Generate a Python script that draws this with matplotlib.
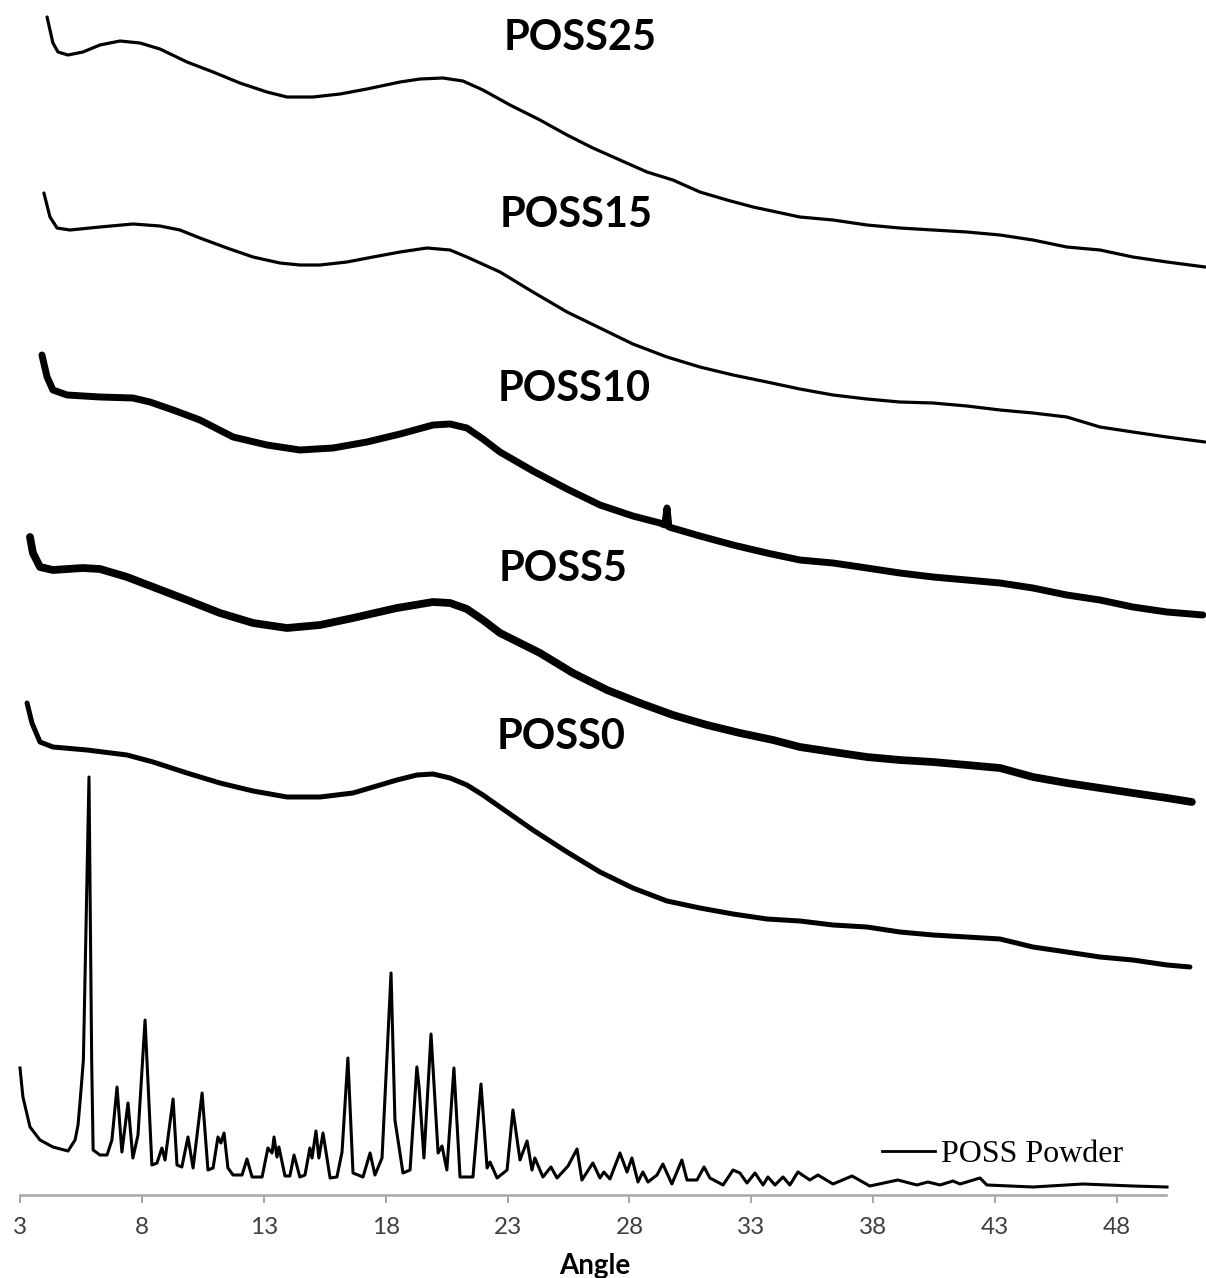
### XRD patterns of POSS powder and POSS/polymer films ###

import matplotlib
matplotlib.use( "Agg" )
import matplotlib.pyplot as plt

# --- end of imports --- #

# --- 2theta / intensity (a.u., offset per trace) --- #
poss25_angle = [ 4.11, 4.35, 4.56, 4.97, 5.58, 6.28, 7.10, 7.92, 8.74, 9.85, 10.92, 12.02, 13.13, 13.95, 15.02, 16.13, 17.23, 18.59, 19.41, 20.35, 21.17, 21.99, 23.10, 24.33, 25.44, 26.50, 27.61, 28.72, 29.78, 30.89, 32.00, 33.07, 34.99, 36.35, 37.74, 39.09, 40.45, 41.84, 43.20, 44.55, 45.94, 47.30, 48.65, 50.05, 51.61 ]
poss25_int = [ 1178, 1152, 1143, 1140, 1143, 1150, 1154, 1152, 1146, 1133, 1123, 1112, 1103, 1098, 1098, 1101, 1106, 1113, 1116, 1117, 1114, 1105, 1090, 1075, 1060, 1047, 1035, 1023, 1015, 1003, 995, 988, 978, 975, 970, 967, 965, 963, 960, 955, 948, 945, 938, 933, 928 ]

poss15_angle = [ 3.98, 4.23, 4.52, 5.05, 6.28, 7.63, 8.74, 9.56, 10.38, 11.49, 12.56, 13.66, 14.48, 15.31, 16.41, 17.48, 18.59, 19.69, 20.64, 21.33, 22.69, 24.04, 25.44, 26.79, 28.14, 29.54, 30.89, 32.25, 33.64, 34.99, 36.35, 37.74, 39.09, 40.45, 41.84, 43.20, 44.55, 45.94, 47.30, 48.65, 50.05, 51.61 ]
poss15_int = [ 1002, 978, 967, 965, 968, 971, 969, 965, 957, 947, 938, 932, 930, 930, 933, 938, 943, 947, 945, 938, 923, 903, 883, 867, 851, 838, 828, 820, 813, 806, 800, 796, 793, 792, 789, 785, 782, 778, 768, 763, 758, 753 ]

poss10_angle = [ 3.90, 4.11, 4.35, 4.93, 6.28, 7.63, 8.33, 9.28, 10.38, 11.74, 13.13, 14.48, 15.84, 17.23, 18.59, 19.94, 20.64, 21.33, 21.99, 22.69, 24.04, 25.44, 26.79, 28.14, 29.25, 29.45, 29.54, 29.62, 30.89, 32.25, 33.64, 34.99, 36.35, 37.74, 39.09, 40.45, 41.84, 43.20, 44.55, 45.94, 47.30, 48.65, 50.05, 51.52 ]
poss10_int = [ 840, 818, 805, 800, 798, 797, 793, 785, 775, 758, 750, 745, 747, 753, 761, 770, 771, 767, 756, 743, 724, 706, 690, 679, 672, 670, 687, 668, 659, 650, 642, 635, 632, 627, 622, 618, 615, 612, 607, 600, 595, 588, 583, 580 ]

poss5_angle = [ 3.41, 3.53, 3.82, 4.35, 5.58, 6.28, 7.39, 8.46, 9.85, 11.20, 12.56, 13.95, 15.31, 16.66, 18.46, 19.94, 20.64, 21.33, 21.99, 22.69, 24.33, 25.68, 27.08, 28.43, 29.78, 31.18, 32.53, 33.89, 34.99, 36.35, 37.74, 39.09, 40.45, 41.84, 43.20, 44.55, 45.94, 47.30, 48.65, 50.05, 51.07 ]
poss5_int = [ 658, 642, 628, 625, 627, 626, 618, 608, 595, 582, 572, 567, 570, 577, 587, 593, 592, 586, 575, 562, 542, 522, 505, 492, 480, 470, 462, 455, 448, 443, 438, 435, 433, 430, 427, 418, 412, 407, 402, 397, 393 ]

poss0_angle = [ 3.29, 3.49, 3.82, 4.35, 5.75, 7.39, 8.46, 9.85, 11.20, 12.56, 13.95, 15.31, 16.66, 18.46, 19.28, 19.94, 20.64, 21.33, 21.99, 22.69, 24.04, 25.44, 26.79, 28.14, 29.54, 30.89, 32.25, 33.64, 34.99, 36.35, 37.74, 39.09, 40.45, 41.84, 43.20, 44.55, 45.94, 47.30, 48.65, 50.05, 50.99 ]
poss0_int = [ 492, 472, 453, 448, 445, 440, 433, 422, 412, 404, 398, 398, 402, 415, 420, 421, 417, 410, 400, 388, 365, 343, 323, 307, 294, 287, 281, 276, 274, 270, 268, 263, 260, 258, 256, 248, 243, 238, 235, 230, 228 ]

powder_angle = [ 3.00, 3.12, 3.41, 3.82, 4.35, 4.97, 5.26, 5.38, 5.46, 5.60, 5.83, 5.94, 6.00, 6.28, 6.57, 6.77, 6.98, 7.18, 7.43, 7.63, 7.84, 8.13, 8.41, 8.62, 8.82, 8.95, 9.28, 9.44, 9.64, 9.89, 10.10, 10.47, 10.71, 10.92, 11.12, 11.24, 11.37, 11.53, 11.74, 12.11, 12.31, 12.52, 12.93, 13.17, 13.34, 13.42, 13.54, 13.62, 13.87, 14.07, 14.24, 14.48, 14.69, 14.89, 14.98, 15.14, 15.26, 15.43, 15.72, 16.00, 16.21, 16.45, 16.66, 17.07, 17.36, 17.56, 17.85, 18.22, 18.38, 18.71, 19.00, 19.28, 19.37, 19.57, 19.86, 20.15, 20.31, 20.51, 20.80, 21.05, 21.58, 21.91, 22.16, 22.28, 22.57, 22.98, 23.22, 23.51, 23.80, 24.00, 24.12, 24.45, 24.78, 25.03, 25.48, 25.85, 26.05, 26.50, 26.79, 26.95, 27.20, 27.61, 27.90, 28.10, 28.35, 28.55, 28.76, 29.13, 29.37, 29.74, 30.15, 30.36, 30.77, 31.06, 31.30, 31.84, 32.25, 32.53, 32.82, 33.15, 33.48, 33.68, 33.97, 34.30, 34.58, 34.91, 35.40, 35.73, 36.35, 37.13, 37.86, 39.01, 39.79, 40.24, 40.74, 41.27, 41.56, 42.38, 42.66, 44.55, 46.60, 48.65, 50.05 ]
powder_int = [ 127, 98, 68, 55, 48, 44, 55, 70, 92, 135, 418, 135, 45, 40, 40, 55, 108, 43, 92, 37, 60, 175, 30, 32, 47, 35, 96, 30, 28, 58, 27, 102, 25, 27, 58, 52, 62, 27, 20, 20, 36, 18, 18, 47, 42, 58, 38, 48, 19, 19, 40, 18, 20, 47, 37, 64, 37, 62, 17, 18, 43, 137, 22, 18, 42, 20, 37, 222, 75, 22, 25, 128, 108, 37, 161, 42, 49, 25, 127, 18, 18, 111, 27, 33, 17, 25, 85, 35, 54, 25, 37, 18, 28, 17, 29, 46, 15, 32, 17, 23, 16, 42, 23, 37, 13, 23, 13, 20, 31, 11, 35, 15, 15, 28, 17, 10, 25, 22, 12, 22, 10, 18, 10, 18, 10, 23, 15, 20, 11, 19, 9, 15, 10, 13, 10, 14, 11, 17, 10, 8, 11, 9, 8 ]

labels = [ "POSS25", "POSS15", "POSS10", "POSS5", "POSS0" ]
tick_values = [ 3, 8, 13, 18, 23, 28, 33, 38, 43, 48 ]


def generate_plot( out_file ):
	"""! @brief generate stacked XRD figure """
	
	fig = plt.figure( figsize=( 12.06, 12.78 ), dpi=100 )
	ax = fig.add_axes( [ 20/1206.0, 83/1278.0, 1186/1206.0, 1195/1278.0 ] )
	
	# --- amorphous film traces, heavier lines for the noisier scans --- #
	traces = [ ( poss25_angle, poss25_int, 2.3 ), ( poss15_angle, poss15_int, 2.3 ), ( poss10_angle, poss10_int, 5.0 ), ( poss5_angle, poss5_int, 5.6 ), ( poss0_angle, poss0_int, 3.6 ) ]
	for x, y, lw in traces:
		ax.plot( x, y, color="black", linewidth=lw, solid_joinstyle="round", solid_capstyle="round", clip_on=False )
	
	ax.plot( powder_angle, powder_int, color="black", linewidth=2.2, solid_joinstyle="round", label="POSS Powder", clip_on=False )
	
	# --- sample names above each trace --- #
	label_pos = [ ( 22.85, 1145 ), ( 22.69, 968 ), ( 22.61, 794 ), ( 22.65, 614 ), ( 22.57, 446 ) ]
	for name, ( lx, ly ) in zip( labels, label_pos ):
		ax.text( lx, ly, name, fontsize=30, fontweight="bold", family="Lato", ha="left", va="baseline" )
	
	ax.set_xlim( 3, 51.65 )
	ax.set_ylim( 0, 1195 )
	
	ax.spines['top'].set_visible(False)
	ax.spines['right'].set_visible(False)
	ax.spines['left'].set_visible(False)
	ax.spines['bottom'].set_color( "#a6a6a6" )
	ax.spines['bottom'].set_linewidth( 1.8 )
	ax.spines['bottom'].set_bounds( 3, 50 )
	ax.get_yaxis().set_ticks([])
	
	ax.xaxis.set_ticks( tick_values )
	ax.set_xticklabels( [ str( v ) for v in tick_values ], family="Lato", fontsize=17.5, color="#404040" )
	ax.tick_params( axis="x", direction="out", length=6, width=1.4, color="#a6a6a6", pad=10 )
	
	fig.text( 595/1206.0, 1 - 1274/1278.0, "Angle", ha="center", va="baseline", fontsize=20, fontweight="bold", family="Lato" )
	
	leg = ax.legend( loc="center left", bbox_to_anchor=( 882/1206.0, 1 - 1154/1278.0 ), bbox_transform=fig.transFigure, frameon=False, handlelength=1.65, handletextpad=0.2, borderpad=0, borderaxespad=0, prop={ "family": "Liberation Serif", "size": 23 } )
	leg.get_lines()[0].set_linewidth( 2.0 )
	
	fig.savefig( out_file, dpi=100 )


generate_plot( "out.png" )
